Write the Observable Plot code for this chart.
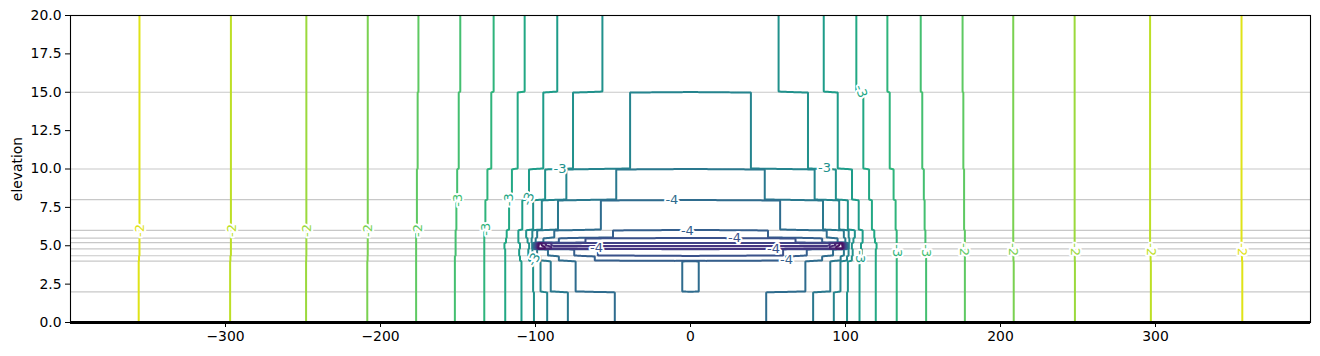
<!DOCTYPE html>
<html>
<head>
<meta charset="utf-8">
<script src="https://cdn.jsdelivr.net/npm/d3@7"></script>
<script src="https://cdn.jsdelivr.net/npm/@observablehq/plot@0.6"></script>
<style>
  html, body { margin: 0; padding: 0; background: white; }
</style>
</head>
<body>
<div id="chart"></div>
<script>
// Contour levels (head)
const levels = [-1.6, -1.8, -2.0, -2.2, -2.4, -2.6, -2.8, -3.0, -3.2, -3.4, -3.6, -3.8, -4.0, -4.2, -4.4, -4.6, -4.8, -5.0, -5.2];

// Model layers (elevation), top to bottom
const layerBottom = [15, 10, 8, 6, 5.5, 5.2, 5.0, 4.8, 4.35, 4, 2, 0];
// Grid lines drawn on the section
const gridElevations = [15, 10, 8, 6, 5.5, 5.2, 4.8, 4.35, 4, 2];

// Head profiles per layer: [distance from centre, head]
const layer1 = [[0,-3.5],[57,-3.4],[86,-3.2],[107,-3.0],[127,-2.8],[148.5,-2.6],[175.5,-2.4],[208.2,-2.2],[247.8,-2.0],[296.5,-1.8],[355.5,-1.6],[420,-1.38]];
const layer2 = [[0,-3.7],[39,-3.6],[75.8,-3.4],[95,-3.2],[111.5,-3.0],[128.5,-2.8],[149.5,-2.6],[176,-2.4],[208.2,-2.2],[247.8,-2.0],[296.5,-1.8],[355.5,-1.6],[420,-1.38]];
const layer3 = [[0,-3.9],[48,-3.8],[80.2,-3.6],[93.8,-3.4],[104.2,-3.2],[115.2,-3.0],[131,-2.8],[150.5,-2.6],[176.5,-2.4],[208.2,-2.2],[247.8,-2.0],[296.5,-1.8],[355.5,-1.6],[420,-1.38]];
const layer4 = [[0,-4.1],[58,-4.0],[85.5,-3.8],[96,-3.6],[101.5,-3.4],[108.5,-3.2],[117,-3.0],[132.3,-2.8],[151,-2.6],[176.5,-2.4],[208.2,-2.2],[247.8,-2.0],[296.5,-1.8],[355.5,-1.6],[420,-1.38]];
const layer5 = [[0,-4.3],[50,-4.2],[88,-4.0],[99,-3.8],[102,-3.6],[106,-3.4],[111,-3.2],[118.5,-3.0],[133,-2.8],[151.5,-2.6],[177,-2.4],[208.2,-2.2],[247.8,-2.0],[296.5,-1.8],[355.5,-1.6],[420,-1.38]];
const layer6 = [[0,-4.5],[68,-4.4],[85,-4.2],[95,-4.0],[100,-3.8],[102.5,-3.6],[105,-3.4],[111,-3.2],[119,-3.0],[133,-2.8],[151.5,-2.6],[177,-2.4],[208.2,-2.2],[247.8,-2.0],[296.5,-1.8],[355.5,-1.6],[420,-1.38]];
const layer7a = [[0,-4.7],[88,-4.7],[95,-5.1],[97.5,-5.35],[99.5,-4.6],[101,-4.0],[102,-3.6],[104,-3.4],[110,-3.2],[120,-3.0],[133,-2.8],[151.5,-2.6],[177,-2.4],[208.2,-2.2],[247.8,-2.0],[296.5,-1.8],[355.5,-1.6],[420,-1.38]];
const layer7b = [[0,-4.9],[88,-4.9],[95,-5.25],[97.5,-5.45],[99.5,-4.6],[101,-4.0],[102,-3.6],[104,-3.4],[110,-3.2],[120,-3.0],[133,-2.8],[151.5,-2.6],[177,-2.4],[208.2,-2.2],[247.8,-2.0],[296.5,-1.8],[355.5,-1.6],[420,-1.38]];
const layer8 = [[0,-4.5],[60,-4.4],[75,-4.2],[92,-4.0],[99,-3.8],[102,-3.6],[104.5,-3.4],[110.5,-3.2],[119.5,-3.0],[133,-2.8],[151.5,-2.6],[177,-2.4],[208.2,-2.2],[247.8,-2.0],[296.5,-1.8],[355.5,-1.6],[420,-1.38]];
const layer9 = [[0,-4.3],[62,-4.2],[85,-4.0],[97,-3.8],[101,-3.6],[104,-3.4],[110,-3.2],[119.5,-3.0],[133,-2.8],[152,-2.6],[177,-2.4],[208.3,-2.2],[247.9,-2.0],[296.8,-1.8],[355.8,-1.6],[420,-1.38]];
const layer10 = [[0,-3.95],[5.4,-4.0],[10,-4.1],[60,-4.1],[74.2,-4.0],[90.3,-3.8],[96.8,-3.6],[101.5,-3.4],[109,-3.2],[119.5,-3.0],[133,-2.8],[152,-2.6],[177,-2.4],[208.5,-2.2],[248,-2.0],[297,-1.8],[356,-1.6],[420,-1.38]];
const layer11 = [[0,-4.1],[49,-4.0],[79.2,-3.8],[92.5,-3.6],[101,-3.4],[109,-3.2],[119.5,-3.0],[133,-2.8],[152,-2.6],[177,-2.4],[208.5,-2.2],[248,-2.0],[297,-1.8],[356,-1.6],[420,-1.38]];

// Contour labels
const labelX      = [-355.5, -296, -247.5, -208, -176, -150, -132, -117.4, -104.5, -84.2, -12, -2, 28.4, -60.6, 53.5, 62, -101, 86.5, 110, 109.4, 133.5, 152.3, 176.8, 208.4, 248.3, 297, 356];
const labelY      = [6, 6, 6, 6, 6, 7.96, 6.07, 8.0, 8.05, 10.0, 8.0, 6.0, 5.49, 4.87, 4.83, 4.1, 4.1, 10.05, 15.06, 4.28, 4.67, 4.67, 4.75, 4.75, 4.75, 4.75, 4.75];
const labelLevel  = [-1.6, -1.8, -2.0, -2.2, -2.4, -2.6, -2.8, -3.0, -3.2, -3.4, -4.0, -4.2, -4.4, -4.4, -4.4, -4.2, -3.4, -3.4, -3.0, -3.2, -2.8, -2.6, -2.4, -2.2, -2.0, -1.8, -1.6];
const labelRotate = [-90, -90, -90, -90, -90, -90, -90, -90, -70, 0, 0, 0, 0, 0, 0, 0, -60, 0, 70, 90, 90, 90, 90, 90, 90, 90, 90];

const xTicks = [-300, -200, -100, 0, 100, 200, 300];
const yTicks = [0, 2.5, 5, 7.5, 10, 12.5, 15, 17.5, 20];

const profiles = [layer1, layer2, layer3, layer4, layer5, layer6, layer7a, layer7b, layer8, layer9, layer10, layer11];

function head(x, y) {
  let li = profiles.length - 1;
  for (let i = 0; i < layerBottom.length; i++) {
    if (y >= layerBottom[i]) { li = i; break; }
  }
  const p = profiles[li];
  const ax = Math.abs(x);
  for (let i = 1; i < p.length; i++) {
    if (ax <= p[i][0]) {
      const [x0, h0] = p[i - 1], [x1, h1] = p[i];
      return h0 + (h1 - h0) * (ax - x0) / (x1 - x0);
    }
  }
  const [x0, h0] = p[p.length - 2], [x1, h1] = p[p.length - 1];
  return h1 + (h1 - h0) * (ax - x1) / (x1 - x0);
}

const labels = labelX.map((x, i) => ({
  x, y: labelY[i], level: labelLevel[i], rotate: labelRotate[i],
  text: String(Math.round(labelLevel[i]))
}));

const chart = Plot.plot({
  width: 1320,
  height: 356,
  marginLeft: 70,
  marginRight: 10,
  marginTop: 15,
  marginBottom: 34,
  style: {fontFamily: "DejaVu Sans", fontSize: "13.9px", background: "white", color: "black"},
  x: {domain: [-400, 400], ticks: xTicks, tickSize: 5, tickPadding: 4, label: null},
  y: {domain: [0, 20], ticks: yTicks, tickFormat: d3.format(".1f"), tickSize: 5, tickPadding: 4,
      label: "elevation", labelAnchor: "center", labelArrow: false, labelOffset: 58},
  color: {type: "linear", scheme: "viridis", domain: [-5.4, -1.4]},
  marks: [
    Plot.ruleY(gridElevations, {stroke: "#c8c8c8", strokeWidth: 1.2}),
    Plot.contour({
      value: head, x1: -420, x2: 420, y1: -1, y2: 21,
      thresholds: levels, stroke: "value", fill: "none",
      strokeWidth: 2, pixelSize: 1, clip: true
    }),
    Plot.text(labels, {
      x: "x", y: "y", text: "text", rotate: "rotate", fill: "level",
      stroke: "white", strokeWidth: 4, paintOrder: "stroke", fontSize: 13
    }),
    Plot.ruleY([0], {stroke: "black", strokeWidth: 3}),
    Plot.frame({stroke: "black", strokeWidth: 1.1})
  ]
});
document.getElementById("chart").appendChild(chart);
</script>
</body>
</html>
